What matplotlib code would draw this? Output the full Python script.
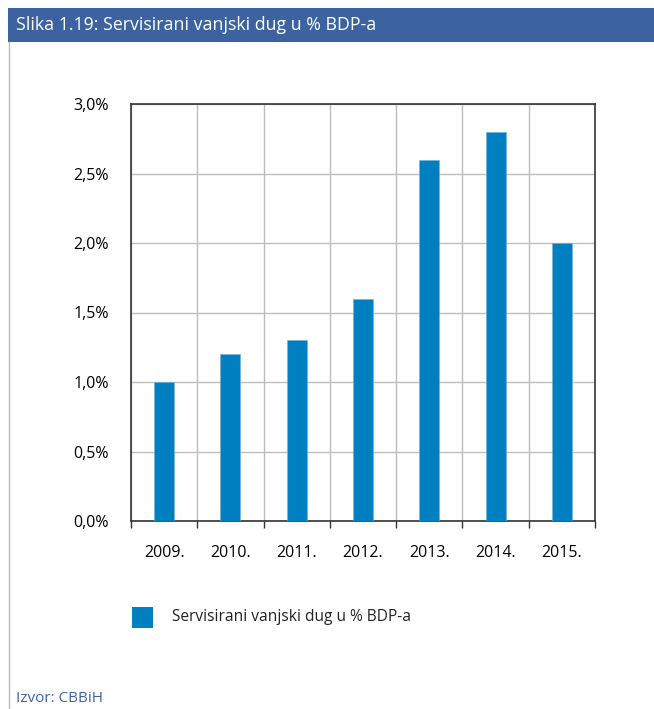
import matplotlib
matplotlib.use("Agg")
import matplotlib.pyplot as plt
from matplotlib.patches import Rectangle
from matplotlib.lines import Line2D
from matplotlib.ticker import FixedLocator

plt.rcParams['font.family'] = ['Open Sans', 'DejaVu Sans']

years = ["2009.", "2010.", "2011.", "2012.", "2013.", "2014.", "2015."]
values = [1.0, 1.2, 1.3, 1.6, 2.6, 2.8, 2.0]
yticks = [0.0, 0.5, 1.0, 1.5, 2.0, 2.5, 3.0]
ytick_labels = ["0,0%", "0,5%", "1,0%", "1,5%", "2,0%", "2,5%", "3,0%"]
series_name = "Servisirani vanjski dug u % BDP-a"
title = "Slika 1.19: Servisirani vanjski dug u % BDP-a"
source = "Izvor: CBBiH"

W, H = 654, 709
fig = plt.figure(figsize=(W / 100, H / 100), dpi=100)

# header bar
fig.patches.append(Rectangle((8 / W, 1 - 42 / H), 1 - 8 / W, 34 / H,
                             transform=fig.transFigure, facecolor="#3D62A0",
                             edgecolor="none", zorder=0))
fig.text(16 / W, 1 - 25 / H, title, color="white", fontsize=12.8,
         va="center", ha="left")
# left border line
fig.lines.append(Line2D([8.5 / W, 8.5 / W], [0, 1 - 42 / H], transform=fig.transFigure,
                        color="#BBBBBB", linewidth=1))

ax = fig.add_axes([131 / W, 1 - 521 / H, 464 / W, 417 / H])
x = list(range(len(years)))
ax.bar(x, values, width=0.3, color="#0080C0", edgecolor="#6FB3DD", linewidth=0.4,
       zorder=3, label=series_name)
ax.set_xlim(-0.5, len(years) - 0.5)
ax.set_ylim(0, 3.0)
ax.set_yticks(yticks)
ax.set_yticklabels(ytick_labels, fontsize=11.5)
ax.tick_params(axis="y", length=0, pad=16)

ax.set_xticks(x)
ax.set_xticklabels(years, fontsize=11.5)
ax.tick_params(axis="x", which="major", length=0, pad=17)
bounds = [i - 0.5 for i in range(len(years) + 1)]
ax.xaxis.set_minor_locator(FixedLocator(bounds))
ax.tick_params(axis="x", which="minor", length=5, width=1, color="#333333", direction="out")

ax.grid(axis="y", which="major", color="#BDBDBD", linewidth=1, zorder=0)
ax.grid(axis="x", which="minor", color="#BDBDBD", linewidth=1, zorder=0)
ax.grid(axis="x", which="major", visible=False)
for s in ["left", "bottom", "top", "right"]:
    ax.spines[s].set_color("#333333")
    ax.spines[s].set_linewidth(1.2)

# legend
fig.patches.append(Rectangle((132 / W, 1 - 628 / H), 21 / W, 21 / H,
                             transform=fig.transFigure, facecolor="#0080C0",
                             edgecolor="none"))
fig.text(172 / W, 1 - 617 / H, series_name, fontsize=11.2, va="center", ha="left",
         color="#222222")

fig.text(16 / W, 1 - 698 / H, source, fontsize=11, va="center", ha="left",
         color="#3D62A0")

fig.savefig("out.png", dpi=100)
